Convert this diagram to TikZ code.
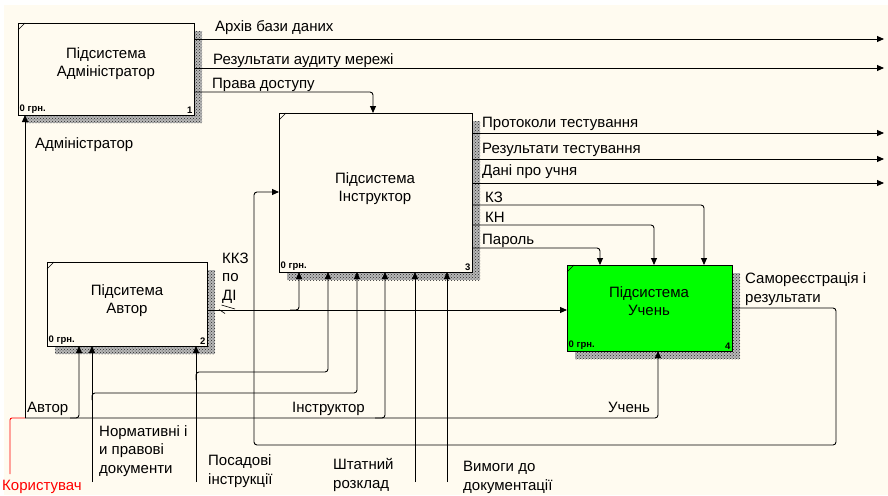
\documentclass[tikz,border=0pt]{standalone}
\usepackage{fontspec}
\setmainfont{Liberation Sans}
\usetikzlibrary{arrows.meta,patterns,calc}

\definecolor{cream}{RGB}{255,251,240}
\definecolor{boxgreen}{RGB}{0,255,0}

\tikzset{
  funcbox/.style={draw, line width=0.9pt, fill=cream, inner sep=0pt, outer sep=0pt,
    preaction={fill=black!28, transform canvas={xshift=8pt,yshift=-8pt}},
    preaction={pattern=crosshatch dots, pattern color=black!85,
      transform canvas={xshift=8pt,yshift=-8pt}}},
  boxtitle/.style={font=\fontsize{15}{18}\selectfont, align=center, inner sep=0pt, anchor=base},
  cost/.style={font=\fontsize{9.5}{10}\selectfont\bfseries, inner sep=1.5pt},
  flow/.style={line width=0.9pt, rounded corners=3pt, -{Triangle[length=7pt,width=6pt]}},
  arrowlabel/.style={font=\fontsize{15}{18.5}\selectfont, align=left, inner sep=0pt, anchor=base west},
}

\begin{document}
\begin{tikzpicture}[x=1pt,y=-1pt]
    \useasboundingbox (0,0) rectangle (888,495);
    \fill[white] (0,0) rectangle (888,495);
    \fill[cream] (4,5) rectangle (888,495);

    % Define boxes
    \node[funcbox, minimum width=176pt, minimum height=92pt]  (adm)     at (106,69)      {};
    \node[funcbox, minimum width=160pt, minimum height=84pt]  (author)  at (127,304)     {};
    \node[funcbox, minimum width=193pt, minimum height=159pt] (instr)   at (375.5,192.5) {};
    \node[funcbox, fill=boxgreen, minimum width=165pt, minimum height=86pt] (student) at (649.5,308) {};

    % titles (base = last line)
    \node[boxtitle] (adm-t)     at (106,77)  {Підсистема\\Адміністратор};
    \node[boxtitle] (author-t)  at (127,313) {Підситема\\Автор};
    \node[boxtitle] (instr-t)   at (375,201) {Підсистема\\Інструктор};
    \node[boxtitle] (student-t) at (649,315) {Підсистема\\Учень};

    \foreach \b/\n in {adm/1,author/2,instr/3,student/4}{
      \draw[line width=0.6pt] ($(\b.north west)+(0,7)$) -- ($(\b.north west)+(7,0)$);
      \node[cost, anchor=south west] (\b-cost) at (\b.south west) {0 грн.};
      \node[cost, anchor=south east] (\b-num)  at (\b.south east) {\n};
    }

    % Free ends
    \coordinate (archive)   at (884,39);
    \coordinate (audit)     at (884,68);
    \coordinate (protocols) at (884,133);
    \coordinate (results)   at (884,159);
    \coordinate (pupildata) at (884,183);
    \coordinate (user)      at (10,474);
    \coordinate (split)     at (25,418);
    \coordinate (normdocs)  at (92,482);
    \coordinate (duties)    at (196,482);
    \coordinate (staff)     at (415,482);
    \coordinate (docreq)    at (447,482);

    % Connect boxes
    \draw[flow] (adm.east |- archive) -- (archive);
    \draw[flow] (adm.east |- audit) -- (audit);
    \draw[flow] (adm.east |- 0,92) -| (instr.north -| 373,0);

    \draw[flow] (instr.east |- protocols) -- (protocols);
    \draw[flow] (instr.east |- results) -- (results);
    \draw[flow] (instr.east |- pupildata) -- (pupildata);
    \draw[flow] (instr.east |- 0,205) -| (student.north -| 704,0);
    \draw[flow] (instr.east |- 0,225) -| (student.north -| 654,0);
    \draw[flow] (instr.east |- 0,248) -| (student.north -| 600,0);

    \draw[flow] (author.east |- 0,310) -- (student.west |- 0,310);
    \draw[flow] (290,310) -| (instr.south -| 299,0);
    \draw[line width=0.6pt] (221.5,305) -- (235,309) (219,309.5) -- (225,313.5);

    \draw[flow] (student.east |- 0,308) -- (836,308) -- (836,445) -- (254,445)
      -- (254,192) -- (instr.west |- 0,192);

    % Users and mechanisms
    \draw[red, line width=0.9pt, rounded corners=2pt] (user) |- (split);
    \draw[flow] (split) -- (adm.south -| split);
    \draw[flow] (split) -| (student.south -| 658,0);
    \draw[flow] (70,418) -| (author.south -| 79,0);
    \draw[flow] (375,418) -| (instr.south -| 385,0);

    \draw[flow] (normdocs) -- (author.south -| normdocs);
    \draw[flow] (92,400) |- (357,393) -- (instr.south -| 357,0);
    \draw[flow] (duties) -- (author.south -| duties);
    \draw[flow] (196,380) |- (328,372) -- (instr.south -| 328,0);
    \draw[flow] (staff) -- (instr.south -| staff);
    \draw[flow] (docreq) -- (instr.south -| docreq);

    % Labels (base = last line)
    \node[arrowlabel] (l-archive)   at (215,32)  {Архів бази даних};
    \node[arrowlabel] (l-audit)     at (213,64)  {Результати аудиту мережі};
    \node[arrowlabel] (l-access)    at (212,88)  {Права доступу};
    \node[arrowlabel] (l-admin)     at (35,148)  {Адміністратор};
    \node[arrowlabel] (l-protocols) at (482,127) {Протоколи тестування};
    \node[arrowlabel] (l-results)   at (482,153) {Результати тестування};
    \node[arrowlabel] (l-data)      at (482,175) {Дані про учня};
    \node[arrowlabel] (l-kz)        at (485,202) {КЗ};
    \node[arrowlabel] (l-kn)        at (485,222) {КН};
    \node[arrowlabel] (l-password)  at (482,244) {Пароль};
    \node[arrowlabel] (l-kkz)       at (222,300) {ККЗ\\по\\ДІ};
    \node[arrowlabel] (l-selfreg)   at (745,302) {Самореєстрація і\\результати};
    \node[arrowlabel] (l-author)    at (27,412)  {Автор};
    \node[arrowlabel] (l-instr)     at (292,412) {Інструктор};
    \node[arrowlabel] (l-student)   at (608,412) {Учень};
    \node[arrowlabel] (l-norm)      at (99,473)  {Нормативні і\\и правові\\документи};
    \node[arrowlabel] (l-duties)    at (208,484) {Посадові\\інструкції};
    \node[arrowlabel] (l-staff)     at (333,488) {Штатний\\розклад};
    \node[arrowlabel] (l-docreq)    at (463,490) {Вимоги до\\документації};
    \node[arrowlabel, text=red] (l-user) at (2,490) {Користувач};
\end{tikzpicture}
\end{document}
